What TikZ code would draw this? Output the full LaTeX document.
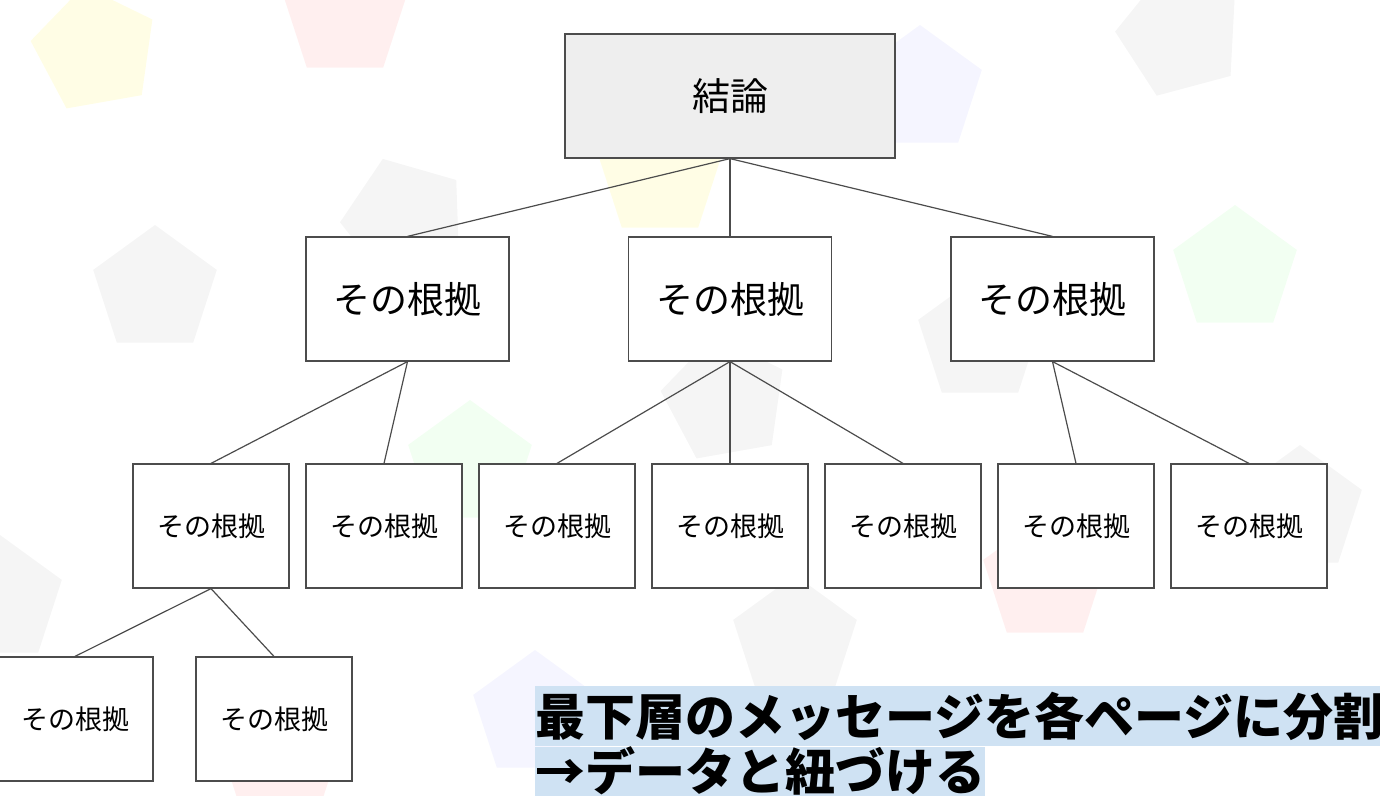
\documentclass[tikz,border=0pt]{standalone}
\usepackage{fontspec}
\setmainfont{Noto Sans CJK JP}
\usetikzlibrary{shapes.geometric}
\definecolor{box_gray}{RGB}{238, 238, 238}
\definecolor{hl_blue}{RGB}{207, 226, 243}
\tikzstyle{bx}=[rectangle,draw=black!70,fill=white,line width=1.2pt,inner sep=0pt]
\tikzstyle{big}=[style=bx,minimum width=203pt,minimum height=124pt,font=\fontsize{37}{40}\selectfont]
\tikzstyle{small}=[style=bx,minimum width=156pt,minimum height=124pt,font=\fontsize{27}{30}\selectfont]
\tikzstyle{pent}=[regular polygon,regular polygon sides=5,minimum size=130pt,opacity=0.5]
\tikzstyle{none}=[]
\begin{document}
\begin{tikzpicture}[x=1pt,y=-1pt]
            \useasboundingbox (0,0) rectangle (1380,795);
            \clip (0,0) rectangle (1380,795);
            % background
            \node [style=pent,fill=yellow!20,rotate=10] (p0) at (95, 50) {};
            \node [style=pent,fill=red!12] (p1) at (345, 15) {};
            \node [style=pent,fill=blue!8] (p2) at (920, 90) {};
            \node [style=pent,fill=black!8,rotate=15] (p3) at (1180, 35) {};
            \node [style=pent,fill=black!8] (p4) at (155, 290) {};
            \node [style=pent,fill=black!8,rotate=20] (p5) at (405, 220) {};
            \node [style=pent,fill=yellow!20] (p6) at (660, 175) {};
            \node [style=pent,fill=green!10] (p7) at (1235, 270) {};
            \node [style=pent,fill=black!8] (p8) at (980, 340) {};
            \node [style=pent,fill=black!8,rotate=10] (p9) at (725, 400) {};
            \node [style=pent,fill=green!10] (p10) at (470, 465) {};
            \node [style=pent,fill=yellow!20] (p11) at (215, 530) {};
            \node [style=pent,fill=red!12] (p12) at (1045, 580) {};
            \node [style=pent,fill=black!8] (p13) at (1300, 510) {};
            \node [style=pent,fill=black!8] (p14) at (795, 640) {};
            \node [style=pent,fill=blue!8] (p15) at (535, 715) {};
            \node [style=pent,fill=red!12] (p16) at (280, 760) {};
            \node [style=pent,fill=black!8] (p17) at (0, 600) {};
            % tree
            \node [style=bx,fill=box_gray,minimum width=330pt,minimum height=124pt,font=\fontsize{38}{42}\selectfont] (0) at (730, 96) {結論};
            \node [style=big] (1) at (407.5, 299) {その根拠};
            \node [style=big] (2) at (730, 299) {その根拠};
            \node [style=big] (3) at (1052.5, 299) {その根拠};
            \node [style=small] (4) at (211, 526) {その根拠};
            \node [style=small] (5) at (384, 526) {その根拠};
            \node [style=small] (6) at (557, 526) {その根拠};
            \node [style=small] (7) at (730, 526) {その根拠};
            \node [style=small] (8) at (903, 526) {その根拠};
            \node [style=small] (9) at (1076, 526) {その根拠};
            \node [style=small] (10) at (1249, 526) {その根拠};
            \node [style=small] (11) at (75, 719) {その根拠};
            \node [style=small] (12) at (274, 719) {その根拠};
            \draw [black!70,line width=1.2pt] (0.south) to (1.north);
            \draw [black!70,line width=1.2pt] (0.south) to (2.north);
            \draw [black!70,line width=1.2pt] (0.south) to (3.north);
            \draw [black!70,line width=1.2pt] (1.south) to (4.north);
            \draw [black!70,line width=1.2pt] (1.south) to (5.north);
            \draw [black!70,line width=1.2pt] (2.south) to (6.north);
            \draw [black!70,line width=1.2pt] (2.south) to (7.north);
            \draw [black!70,line width=1.2pt] (2.south) to (8.north);
            \draw [black!70,line width=1.2pt] (3.south) to (9.north);
            \draw [black!70,line width=1.2pt] (3.south) to (10.north);
            \draw [black!70,line width=1.2pt] (4.south) to (11.north);
            \draw [black!70,line width=1.2pt] (4.south) to (12.north);
            % note
            \node [style=none,fill=hl_blue,anchor=west,inner sep=0pt,minimum height=60pt,font=\fontsize{50}{54}\selectfont\bfseries] (13) at (535, 716) {最下層のメッセージを各ページに分割};
            \node [style=none,fill=hl_blue,anchor=west,inner sep=0pt,minimum height=49pt,font=\fontsize{50}{54}\selectfont\bfseries] (14) at (535, 771) {→データと紐づける};
    \end{tikzpicture}
\end{document}
